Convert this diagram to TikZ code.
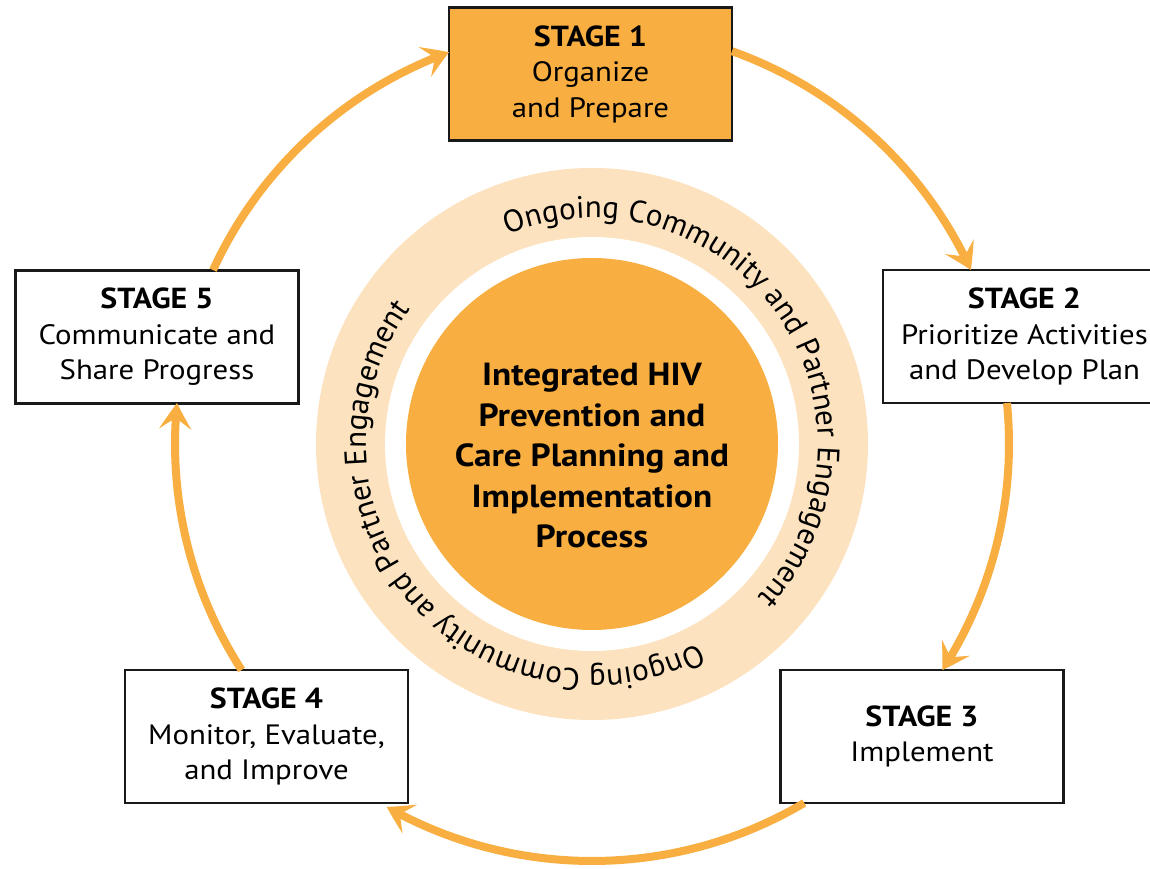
\documentclass[tikz,border=0pt]{standalone}
\usepackage{fontspec}
\setmainfont{PT Sans}[FakeStretch=1.1]
\newfontfamily\ringfam{PT Sans}
\usetikzlibrary{arrows.meta,decorations.text,calc,bending}
\definecolor{orng}{RGB}{248,174,64}
\definecolor{peach}{RGB}{252,226,190}
\definecolor{boxline}{RGB}{25,25,25}
\newcommand{\ringfont}{\ringfam\fontsize{31}{31}\selectfont}
\newcommand{\stagelabel}[1]{{\fontsize{29}{35.5}\selectfont\bfseries #1}}
\begin{document}
\begin{tikzpicture}[x=1pt,y=1pt,
  stagebox/.style={draw=boxline, line width=2.5pt, minimum width=283pt, minimum height=133pt,
    align=center, inner sep=0pt, font=\fontsize{28}{35.5}\selectfont},
  cyclearrow/.style={draw=orng, line width=8pt, -{Stealth[length=26pt,width=32pt,inset=11pt,bend]}},
  ringtext/.style={decorate, decoration={text along path, text align=left, text={|\ringfont|#1}}}
]
\useasboundingbox (0,0) rectangle (1150,869);
\coordinate (C) at (592,425);
% engagement ring
\fill[peach] (C) circle[radius=276];
\fill[white] (C) circle[radius=207];
\path[ringtext={Ongoing Community and Partner Engagement}] ($(C)+(112:226)$) arc[start angle=112, end angle=-70, radius=226];
\path[ringtext={Ongoing Community and Partner Engagement}] ($(C)+(-62:226)$) arc[start angle=-62, end angle=-250, radius=226];
% core
\node[circle, fill=orng, minimum size=372pt, inner sep=0pt] (core) at (C) {};
\node[font=\bfseries\fontsize{32}{40.5}\selectfont, align=center] (coretext) at (592,413)
  {Integrated HIV\\Prevention and\\Care Planning and\\Implementation\\Process};
% stage boxes
\node[stagebox, fill=orng] (s1) at (590.5,795) {\stagelabel{STAGE 1}\\Organize\\and Prepare};
\node[stagebox, fill=white] (s2) at (1024.5,532.5) {\stagelabel{STAGE 2}\\Prioritize Activities\\and Develop Plan};
\node[stagebox, fill=white] (s3) at (922,132.5) {\stagelabel{STAGE 3}\\Implement};
\node[stagebox, fill=white] (s4) at (266.5,132.5) {\stagelabel{STAGE 4}\\Monitor, Evaluate,\\and Improve};
\node[stagebox, fill=white] (s5) at (157,532) {\stagelabel{STAGE 5}\\Communicate and\\Share Progress};
% arrow end points on the cycle circle
\coordinate (a1) at ($(C)+(70.38:417)$);
\coordinate (a2) at ($(C)+(5.64:417)$);
\coordinate (a3) at ($(C)+(-59.41:417)$);
\coordinate (a4) at ($(C)+(212.82:417)$);
\coordinate (a5) at ($(C)+(155.34:417)$);
\draw[cyclearrow] (a1) arc[start angle=70.38, end angle=24.66, radius=417];
\draw[cyclearrow] (a2) arc[start angle=5.64, end angle=-32.82, radius=417];
\draw[cyclearrow] (a3) arc[start angle=-59.41, end angle=-119.5, radius=417];
\draw[cyclearrow] (a4) arc[start angle=212.82, end angle=174.36, radius=417];
\draw[cyclearrow] (a5) arc[start angle=155.34, end angle=110.05, radius=417];
\end{tikzpicture}
\end{document}
